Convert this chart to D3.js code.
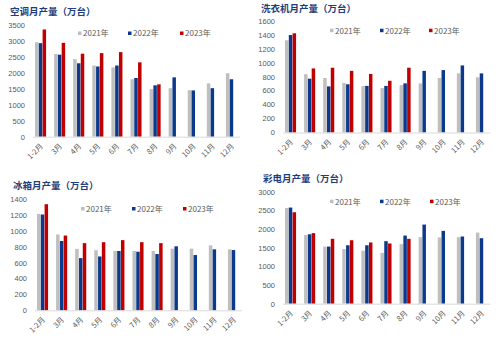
<!DOCTYPE html>
<html><head><meta charset="utf-8">
<script src="https://cdn.jsdelivr.net/npm/d3@7"></script>
<style>
html,body{margin:0;padding:0;background:#fff;}
svg{display:block;}
</style></head>
<body>
<svg id="chart" width="500" height="337"></svg>
<script>
const months = ["1-2月","3月","4月","5月","6月","7月","8月","9月","10月","11月","12月"];
const seriesNames = ["2021年","2022年","2023年"];
const seriesColors = ["#bfbfbf","#0b3a8c","#c00000"];

// 空调
const ac2021 = [2960,2590,2430,2230,2170,1800,1490,1520,1460,1670,1990];
const ac2022 = [2930,2570,2300,2200,2230,1840,1610,1860,1450,1520,1800];
const ac2023 = [3360,2940,2600,2620,2650,2330,1640];
// 洗衣机
const wm2021 = [1320,835,780,710,665,635,678,703,781,846,790];
const wm2022 = [1395,770,660,690,667,667,703,882,893,960,846];
const wm2023 = [1420,917,927,882,838,740,927];
// 冰箱
const rf2021 = [1216,956,775,758,748,748,748,777,777,819,769];
const rf2022 = [1208,874,658,679,748,739,710,807,697,769,760];
const rf2023 = [1338,943,847,859,885,859,847];
// 彩电
const tv2021 = [2565,1840,1530,1465,1420,1362,1595,1783,1775,1783,1905];
const tv2022 = [2575,1860,1530,1565,1565,1675,1825,2120,1950,1800,1755];
const tv2023 = [2450,1890,1738,1700,1640,1613,1738];

const acTicks = [0,500,1000,1500,2000,2500,3000,3500];
const wmTicks = [0,200,400,600,800,1000,1200,1400,1600];
const rfTicks = [0,200,400,600,800,1000,1200,1400];
const tvTicks = [0,500,1000,1500,2000,2500,3000];

const panels = [
  {title:"空调月产量（万台）", data:[ac2021,ac2022,ac2023], ticks:acTicks,
   left:31, right:241, y0:136.7, yTop:25, titleX:10, titleY:12, legendY:33.5, legendX:[78,128,180]},
  {title:"洗衣机月产量（万台）", data:[wm2021,wm2022,wm2023], ticks:wmTicks,
   left:281, right:491, y0:132.5, yTop:20.7, titleX:261, titleY:9, legendY:30.7, legendX:[330,380,429]},
  {title:"冰箱月产量（万台）", data:[rf2021,rf2022,rf2023], ticks:rfTicks,
   left:33, right:243, y0:310.3, yTop:199.3, titleX:13, titleY:186, legendY:209, legendX:[81,132,183]},
  {title:"彩电月产量（万台）", data:[tv2021,tv2022,tv2023], ticks:tvTicks,
   left:281, right:491, y0:303.7, yTop:191.7, titleX:263, titleY:179, legendY:201.7, legendX:[330,380,430]}
];

const svg = d3.select("#chart");
const fontLat = "'Liberation Sans', Arial, sans-serif";
const fontCJK = "'Noto Sans CJK SC', sans-serif";

panels.forEach(p => {
  const g = svg.append("g");
  const maxV = p.ticks[p.ticks.length-1];
  const y = d3.scaleLinear().domain([0, maxV]).range([p.y0, p.yTop]);
  const x0 = d3.scaleBand().domain(months).range([p.left, p.right]).paddingInner(0).paddingOuter(0);
  const bw = x0.bandwidth();
  const x1 = d3.scaleBand().domain(seriesNames).range([bw*0.21, bw*0.79]).paddingInner(0.08);

  // title
  g.append("text").attr("x", p.titleX).attr("y", p.titleY).attr("dy","0.35em")
    .attr("font-family", fontCJK).attr("font-weight","bold").attr("font-size", 9.5)
    .attr("fill","#1f3d7a").text(p.title);

  // y axis labels
  const yAxis = d3.axisLeft(y).tickValues(p.ticks).tickFormat(d3.format("d")).tickSize(0).tickPadding(0);
  const ya = g.append("g").attr("transform", `translate(${p.left-6},0)`).call(yAxis);
  ya.select(".domain").remove();
  ya.selectAll("text").attr("font-family", fontLat).attr("font-size", 7.5).attr("fill","#595959");

  // bars
  seriesNames.forEach((s, si) => {
    const vals = p.data[si];
    g.append("g").selectAll("rect").data(vals).join("rect")
      .attr("x", (d,i) => x0(months[i]) + x1(s))
      .attr("y", d => y(d))
      .attr("width", x1.bandwidth())
      .attr("height", d => p.y0 - y(d))
      .attr("fill", seriesColors[si]);
  });

  // x axis
  const xAxis = d3.axisBottom(x0).tickSize(0).tickPadding(0);
  const xa = g.append("g").attr("transform", `translate(0,${p.y0})`).call(xAxis);
  xa.select(".domain").attr("stroke","#d9d9d9").attr("stroke-width",1)
    .attr("d", `M${p.left+2},0.5H${p.right-1}`);
  xa.selectAll(".tick text")
    .attr("font-family", fontCJK).attr("font-size", 7.5).attr("fill","#595959")
    .attr("text-anchor","end").attr("dy", null)
    .attr("transform", "translate(3,10) rotate(-45)");

  // legend
  seriesNames.forEach((s, si) => {
    const lx = p.legendX[si];
    g.append("rect").attr("x", lx).attr("y", p.legendY-2).attr("width", 3.5).attr("height", 3.5)
      .attr("fill", seriesColors[si]);
    g.append("text").attr("x", lx+5).attr("y", p.legendY).attr("dy","0.35em")
      .attr("font-family", fontCJK).attr("font-size", 8).attr("fill","#595959").text(s);
  });
});
</script>
</body></html>
